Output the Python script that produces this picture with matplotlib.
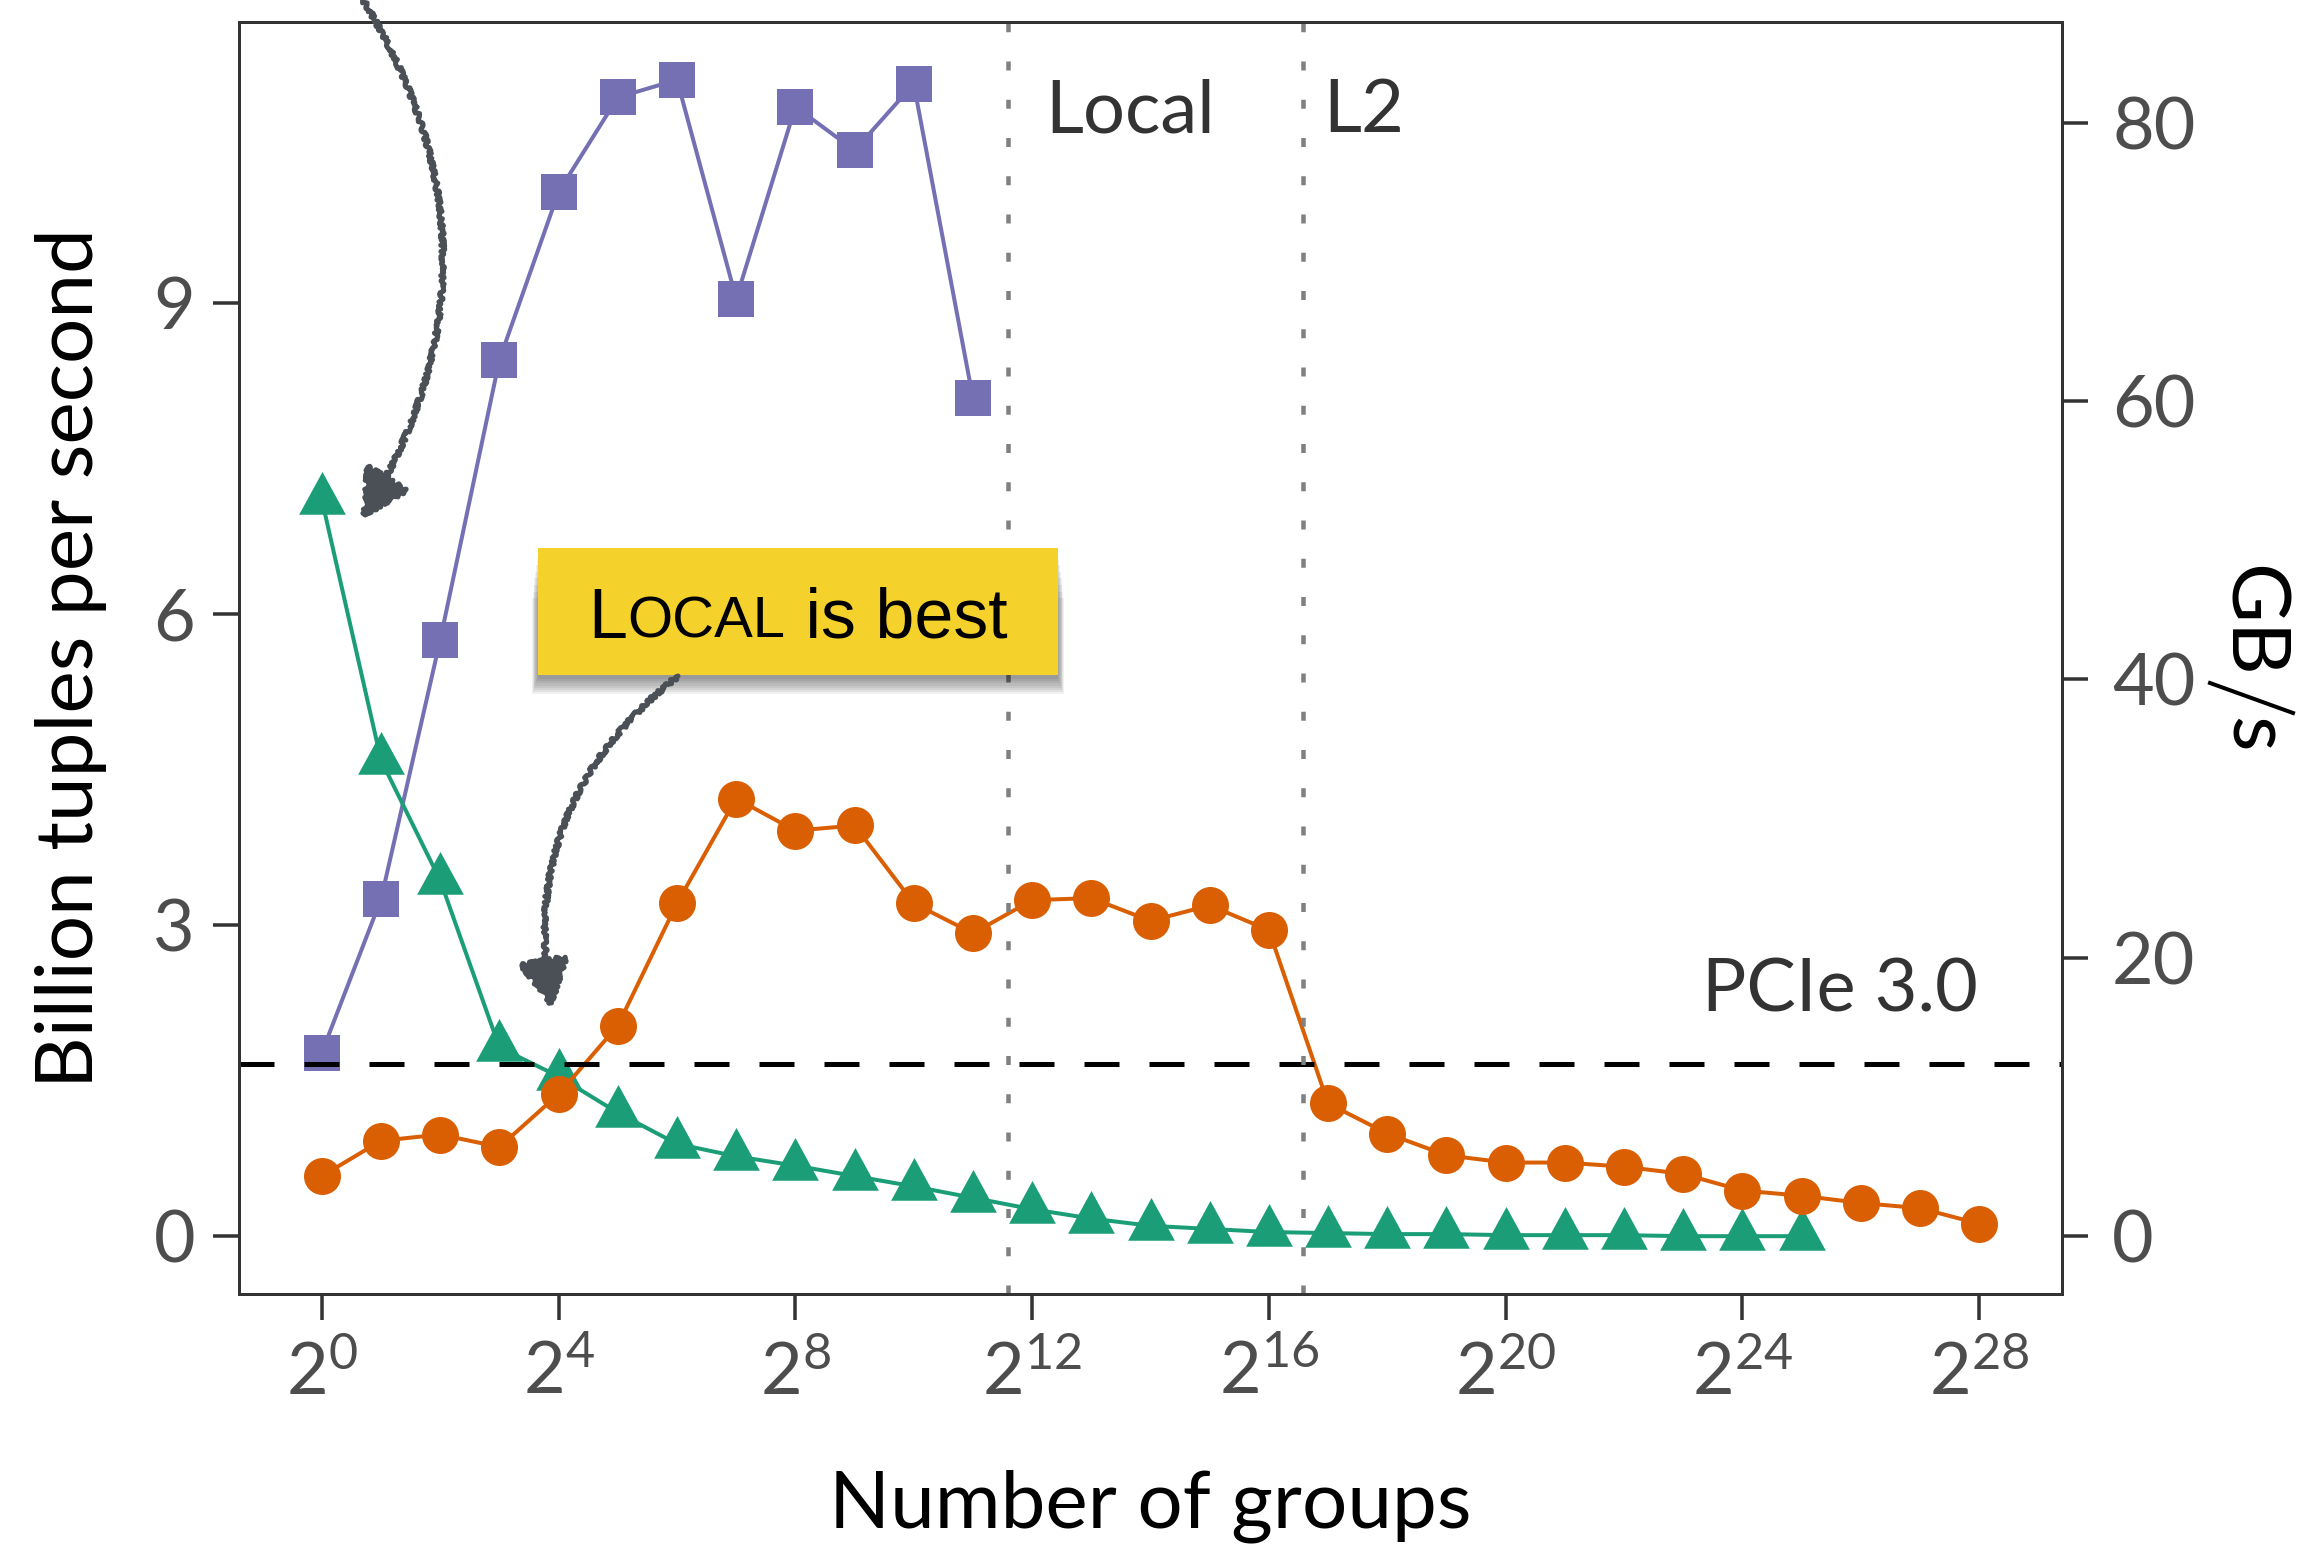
import numpy as np
import matplotlib
matplotlib.use('Agg')
import matplotlib.pyplot as plt
from matplotlib.patches import FancyArrowPatch, Rectangle
from matplotlib.lines import Line2D
from matplotlib.offsetbox import TextArea, HPacker, AnnotationBbox

plt.rcParams['font.family'] = ['Lato', 'DejaVu Sans']
plt.rcParams['mathtext.fontset'] = 'custom'
plt.rcParams['mathtext.rm'] = 'Lato'
plt.rcParams['mathtext.it'] = 'Lato:italic'
plt.rcParams['mathtext.bf'] = 'Lato:bold'

# log2(number of groups) -> billion tuples per second
square_exp = np.arange(0, 12)
square_tput = [1.77, 3.25, 5.75, 8.45, 10.07, 10.98, 11.15, 9.04, 10.89, 10.47, 11.11, 8.08]

triangle_exp = np.arange(0, 26)
triangle_tput = [7.10, 4.59, 3.43, 1.82, 1.54, 1.19, 0.89, 0.77, 0.68, 0.58, 0.48, 0.37, 0.26,
                 0.17, 0.10, 0.07, 0.04, 0.03, 0.02, 0.02, 0.01, 0.01, 0.01, 0.0, 0.0, 0.0]

circle_exp = np.arange(0, 29)
circle_tput = [0.58, 0.92, 0.98, 0.86, 1.37, 2.03, 3.21, 4.22, 3.91, 3.96, 3.21, 2.92, 3.24,
               3.26, 3.04, 3.19, 2.95, 1.28, 0.99, 0.78, 0.71, 0.71, 0.67, 0.60, 0.44, 0.39,
               0.32, 0.27, 0.12]

# 8 byte tuples, right axis in GiB/s
gb_per_btuple = 8 / 1.073741824
pcie_gbs = 12.4
shared_mem_groups = 48 * 1024 / 16     # "Local" boundary
l2_groups = 1.5 * 1024 * 1024 / 16     # "L2" boundary

W, H = 2301, 1546
fig = plt.figure(figsize=(W / 72, H / 72), dpi=72)
ax = fig.add_axes([239 / W, 1 - 1294 / H, (2062 - 239) / W, (1294 - 22) / H])

def fpos(x, y):
    # figure fraction from top-left pixel position
    return (x / W, 1 - y / H)

# centroid centred triangle, like the reference
tri = [(0, 2), (-1.64, -1), (1.64, -1)]

ax.plot(2.0 ** square_exp, square_tput, color='#7570b3', lw=4, marker='s', ms=36, mew=0, zorder=3)
ax.plot(2.0 ** triangle_exp, triangle_tput, color='#1b9e77', lw=4, marker=tri, ms=57, mew=0, zorder=4)
ax.plot(2.0 ** circle_exp, circle_tput, color='#d95f02', lw=4, marker='o', ms=37, mew=0, zorder=5)

ax.axhline(pcie_gbs / gb_per_btuple, color='black', lw=5, dashes=(7, 6), zorder=6)
for xv in (shared_mem_groups, l2_groups):
    ax.axvline(xv, color='#808080', lw=4.5, dashes=(2, 6.5), zorder=6)

ax.set_xscale('log', base=2)
ax.set_xticks([2.0 ** k for k in range(0, 29, 4)])
ax.set_xticklabels([f'$2^{{{k}}}$' for k in range(0, 29, 4)])
ax.minorticks_off()
ax.set_yticks([0, 3, 6, 9])

ax.set_xlabel('Number of groups', fontsize=80, labelpad=62)
ax.set_ylabel('Billion tuples per second', fontsize=80, labelpad=46)

for sp in ax.spines.values():
    sp.set_color('#333333')
    sp.set_linewidth(3)
ax.tick_params(axis='both', direction='out', length=26, width=3.5, color='#333333',
               labelcolor='#4d4d4d', labelsize=72)
ax.tick_params(axis='x', pad=20)
ax.tick_params(axis='y', pad=18)

ylo, yhi = ax.get_ylim()
ax2 = ax.twinx()
ax2.set_ylim(ylo * gb_per_btuple, yhi * gb_per_btuple)
ax2.set_yticks([0, 20, 40, 60, 80])
ax2.tick_params(axis='y', direction='out', length=26, width=3.5, color='#333333',
                labelcolor='#4d4d4d', labelsize=72, pad=24)
for sp in ax2.spines.values():
    sp.set_color('#333333')
    sp.set_linewidth(3)

# right axis label, GB over s with a long slash, read top to bottom
fig.text(*fpos(2228, 621), 'GB', fontsize=82, rotation=270, rotation_mode='anchor',
         ha='center', va='baseline', color='black')
fig.text(*fpos(2230, 735), 's', fontsize=82, rotation=270, rotation_mode='anchor',
         ha='center', va='baseline', color='black')
sx0, sy0 = fpos(2210, 683)
sx1, sy1 = fpos(2293, 713)
fig.add_artist(Line2D([sx0, sx1], [sy0, sy1], transform=fig.transFigure, color='black', lw=4))

# region labels
ax.annotate('Local', xy=(shared_mem_groups, 0.9135), xycoords=ax.get_xaxis_transform(),
            xytext=(38, 0), textcoords='offset points', fontsize=74, color='#333333',
            ha='left', va='baseline')
ax.annotate('L2', xy=(l2_groups, 0.9135), xycoords=ax.get_xaxis_transform(),
            xytext=(20, 0), textcoords='offset points', fontsize=74, color='#333333',
            ha='left', va='baseline')
ax.annotate('PCIe 3.0', xy=(1, pcie_gbs / gb_per_btuple), xycoords=ax.get_yaxis_transform(),
            xytext=(-84, 52), textcoords='offset points', fontsize=74, color='#333333',
            ha='right', va='baseline')

# yellow note with soft shadow
bx0, by0, bx1, by1 = 538, 548, 1058, 675
for i in range(8):
    g = i * 2.2
    fig.add_artist(Rectangle(fpos(bx0 - g * 0.4, by1 + 4 + g), (bx1 - bx0 + g * 0.8) / W,
                             (by1 - by0 - 2 * g) / H, transform=fig.transFigure,
                             facecolor='black', edgecolor='none', alpha=0.06, zorder=9))
fig.add_artist(Rectangle(fpos(bx0, by1), (bx1 - bx0) / W, (by1 - by0) / H,
                         transform=fig.transFigure, facecolor='#f5d22b', edgecolor='none', zorder=10))

note_font = dict(family='Liberation Sans', color='black')
parts = [TextArea('L', textprops=dict(fontsize=70, **note_font)),
         TextArea('OCAL', textprops=dict(fontsize=58, **note_font)),
         TextArea(' is best', textprops=dict(fontsize=70, **note_font))]
pack = HPacker(children=parts, align='baseline', pad=0, sep=0)
ab = AnnotationBbox(pack, fpos((bx0 + bx1) / 2, (by0 + by1) / 2 + 8), xycoords='figure fraction',
                    frameon=False, box_alignment=(0.5, 0.5), pad=0, zorder=11)
fig.add_artist(ab)

# sketchy arrows
for start, end, rad in [((360, -5), (362, 519), -0.31), ((678, 676), (552, 1008), 0.3)]:
    arr = FancyArrowPatch(fpos(*start), fpos(*end), transform=fig.transFigure,
                          arrowstyle='-|>,head_length=0.42,head_width=0.22', mutation_scale=100,
                          connectionstyle=f'arc3,rad={rad}', color='#4b5057', lw=5,
                          shrinkA=0, shrinkB=0, zorder=12, clip_on=False)
    arr.set_sketch_params(scale=2, length=6, randomness=8)
    fig.add_artist(arr)

fig.savefig('out.png', dpi=72)
